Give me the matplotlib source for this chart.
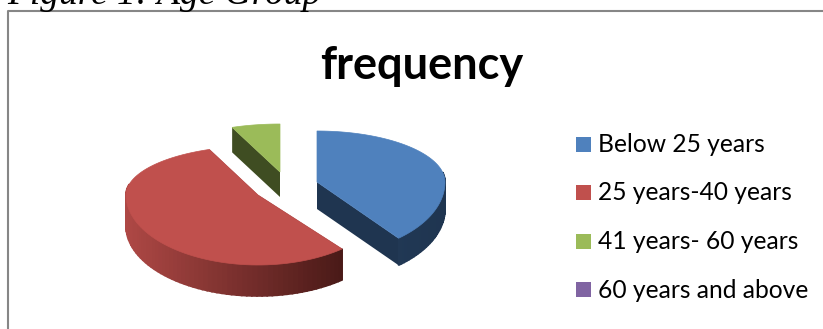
import numpy as np
import matplotlib
matplotlib.use('Agg')
from matplotlib import pyplot as plt
from matplotlib.patches import Polygon, Rectangle

categories = ['Below 25 years', '25 years-40 years', '41 years- 60 years', '60 years and above']
frequency = [39, 55, 6, 0]
colors = ['#4f81bd', '#c0504d', '#9bbb59', '#8064a2']
cut_colors = ['#1f3550', '#4a1a18', '#3f4d22', '#3a2d4a']

# exploded pie layout, in pixels: apex x/y per slice
apex = [(317, 182), (258, 195), (280, 172), (280, 172)]
radius_x = [128, 132, 130, 130]
radius_back = [51, 49, 48, 48]
radius_front = [73, 70, 70, 70]
depth = [27, 31, 25, 25]


def project(i, theta):
    # theta runs clockwise from north, the near half of the pie is stretched
    x = apex[i][0] + radius_x[i] * np.sin(theta)
    c = np.cos(theta)
    y = apex[i][1] - c * np.where(c > 0, radius_back[i], radius_front[i])
    return x, y


def rim_shade(i, t):
    # rim gets darker from left to right
    base = np.array(matplotlib.colors.to_rgb(colors[i]))
    dark = np.array(matplotlib.colors.to_rgb(cut_colors[i]))
    if i == 1:
        mix = np.clip(0.15 + 0.85 * t, 0, 1)
        return base * (1 - mix) + dark * mix
    return dark * (1 + 0.15 * (1 - t))


def draw_slice(ax, i, start, end):
    thetas = np.linspace(start, end, 90)
    xs, ys = project(i, thetas)
    cx, cy = apex[i]
    d = depth[i]
    # cut faces that look toward the viewer
    ax.add_patch(Polygon([(cx, cy), (xs[0], ys[0]), (xs[0], ys[0] + d), (cx, cy + d)],
                         fc=cut_colors[i], ec='none', zorder=2))
    ax.add_patch(Polygon([(cx, cy), (xs[-1], ys[-1]), (xs[-1], ys[-1] + d), (cx, cy + d)],
                         fc=cut_colors[i], ec='none', zorder=2))
    # outer rim as thin shaded strips
    x0, x1 = xs.min(), xs.max()
    for k in range(len(thetas) - 1):
        if np.cos(thetas[k]) > 0 and abs(np.sin(thetas[k])) < 0.98:
            continue
        t = (xs[k] - x0) / max(x1 - x0, 1)
        shade = np.clip(rim_shade(i, t), 0, 1)
        ax.add_patch(Polygon([(xs[k], ys[k]), (xs[k + 1], ys[k + 1]),
                              (xs[k + 1], ys[k + 1] + d), (xs[k], ys[k] + d)],
                             fc=shade, ec=shade, lw=1.2, zorder=3))
    # top face
    ax.add_patch(Polygon(np.vstack([[cx, cy], np.column_stack([xs, ys])]),
                         fc=colors[i], ec=colors[i], lw=0.5, zorder=4))


fig = plt.figure(figsize=(8.23, 3.29), dpi=100)
ax = fig.add_axes([0, 0, 1, 1])
ax.set_xlim(0, 823)
ax.set_ylim(329, 0)
ax.axis('off')

# chart frame, open on the right and at the bottom
ax.plot([8, 8, 823], [329, 11, 11], color='#868686', lw=1.5, zorder=1)

ax.text(7, 4, 'Figure 1: Age Group', family='Liberation Serif', style='italic',
        fontsize=27, color='black', va='baseline', ha='left')
ax.text(422, 66, 'frequency', family='Lato', weight='bold', fontsize=32.5,
        color='black', va='center', ha='center')

total = sum(frequency)
angle = 0.0
for i, value in enumerate(frequency):
    sweep = 2 * np.pi * value / total
    if value > 0:
        draw_slice(ax, i, angle, angle + sweep)
    angle += sweep

for i, label in enumerate(categories):
    y = 144 + 48.5 * i
    ax.add_patch(Rectangle((576, y - 7.5), 15, 15, fc=colors[i], ec='none'))
    ax.text(598, y + 0.5, label, family='Lato', fontsize=17.7, color='black', va='center', ha='left')

fig.savefig('out.png', dpi=100)
